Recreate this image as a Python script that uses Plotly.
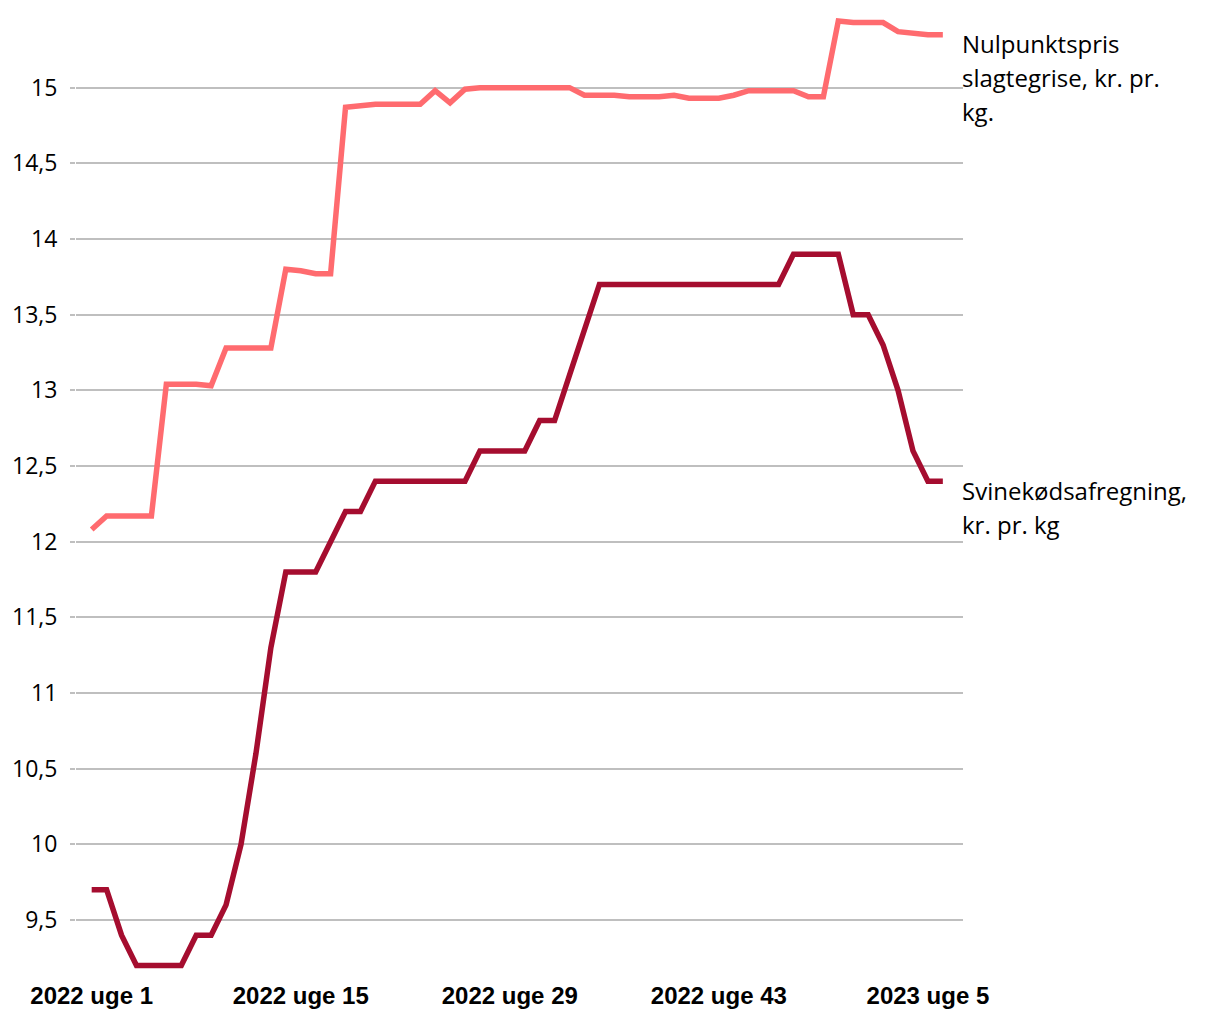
import plotly.graph_objects as go

# Week labels: 2022 uge 1..52, 2023 uge 1..6
weeks = [f"2022 uge {w}" for w in range(1, 53)] + [f"2023 uge {w}" for w in range(1, 7)]

nulpunktspris = [
    12.08, 12.17, 12.17, 12.17, 12.17, 13.04, 13.04, 13.04, 13.03, 13.28,
    13.28, 13.28, 13.28, 13.80, 13.79, 13.77, 13.77, 14.87, 14.88, 14.89,
    14.89, 14.89, 14.89, 14.98, 14.90, 14.99, 15.00, 15.00, 15.00, 15.00,
    15.00, 15.00, 15.00, 14.95, 14.95, 14.95, 14.94, 14.94, 14.94, 14.95,
    14.93, 14.93, 14.93, 14.95, 14.98, 14.98, 14.98, 14.98, 14.94, 14.94,
    15.44, 15.43, 15.43, 15.43, 15.37, 15.36, 15.35, 15.35,
]

svinekoed = [
    9.7, 9.7, 9.4, 9.2, 9.2, 9.2, 9.2, 9.4, 9.4, 9.6,
    10.0, 10.6, 11.3, 11.8, 11.8, 11.8, 12.0, 12.2, 12.2, 12.4,
    12.4, 12.4, 12.4, 12.4, 12.4, 12.4, 12.6, 12.6, 12.6, 12.6,
    12.8, 12.8, 13.1, 13.4, 13.7, 13.7, 13.7, 13.7, 13.7, 13.7,
    13.7, 13.7, 13.7, 13.7, 13.7, 13.7, 13.7, 13.9, 13.9, 13.9,
    13.9, 13.5, 13.5, 13.3, 13.0, 12.6, 12.4, 12.4,
]

label_lines = [
    ["Nulpunktspris", "slagtegrise, kr. pr.", "kg."],
    ["Svinekødsafregning,", "kr. pr. kg"],
]
colors = ["#FF6B6F", "#A50D2F"]

x_tick_idx = [0, 14, 28, 42, 56]
y_ticks = [9.5, 10, 10.5, 11, 11.5, 12, 12.5, 13, 13.5, 14, 14.5, 15]
y_ticktext = [f"{v:g}".replace(".", ",") for v in y_ticks]

fig = go.Figure()
for vals, col in zip([nulpunktspris, svinekoed], colors):
    fig.add_trace(go.Scatter(x=weeks, y=vals, mode="lines",
                             line=dict(color=col, width=5.5), showlegend=False,
                             hoverinfo="skip"))

# end labels, one annotation per line for exact line spacing
for vals, lines in zip([nulpunktspris, svinekoed], label_lines):
    for k, txt in enumerate(lines):
        fig.add_annotation(x=weeks[-1], y=vals[-1], xref="x", yref="y",
                           text=txt, showarrow=False, xanchor="left",
                           yanchor="middle", xshift=17, yshift=-(9 + 34 * k),
                           align="left",
                           font=dict(family="Open Sans", size=24, color="#000000"))

fig.update_layout(
    width=1212, height=1012,
    margin=dict(l=64, r=257, t=4, b=47),
    plot_bgcolor="white", paper_bgcolor="white",
    xaxis=dict(type="category", range=[-1.05, 58.35],
               tickvals=[weeks[i] for i in x_tick_idx],
               ticktext=[f"<b>{weeks[i]}</b>" for i in x_tick_idx],
               showgrid=False, zeroline=False, showline=False, ticks="",
               tickfont=dict(family="Liberation Sans", size=24, color="#000000"),
               ticklabelstandoff=6),
    yaxis=dict(range=[9.15, 15.5], tickvals=y_ticks, ticktext=y_ticktext,
               showgrid=True, gridcolor="#BFBFBF", gridwidth=2, zeroline=False,
               showline=False, ticks="outside", ticklen=5, tickcolor="#BFBFBF",
               tickwidth=2, ticklabelstandoff=8,
               tickfont=dict(family="Open Sans", size=23, color="#000000")),
)

fig.write_html("out.html")
